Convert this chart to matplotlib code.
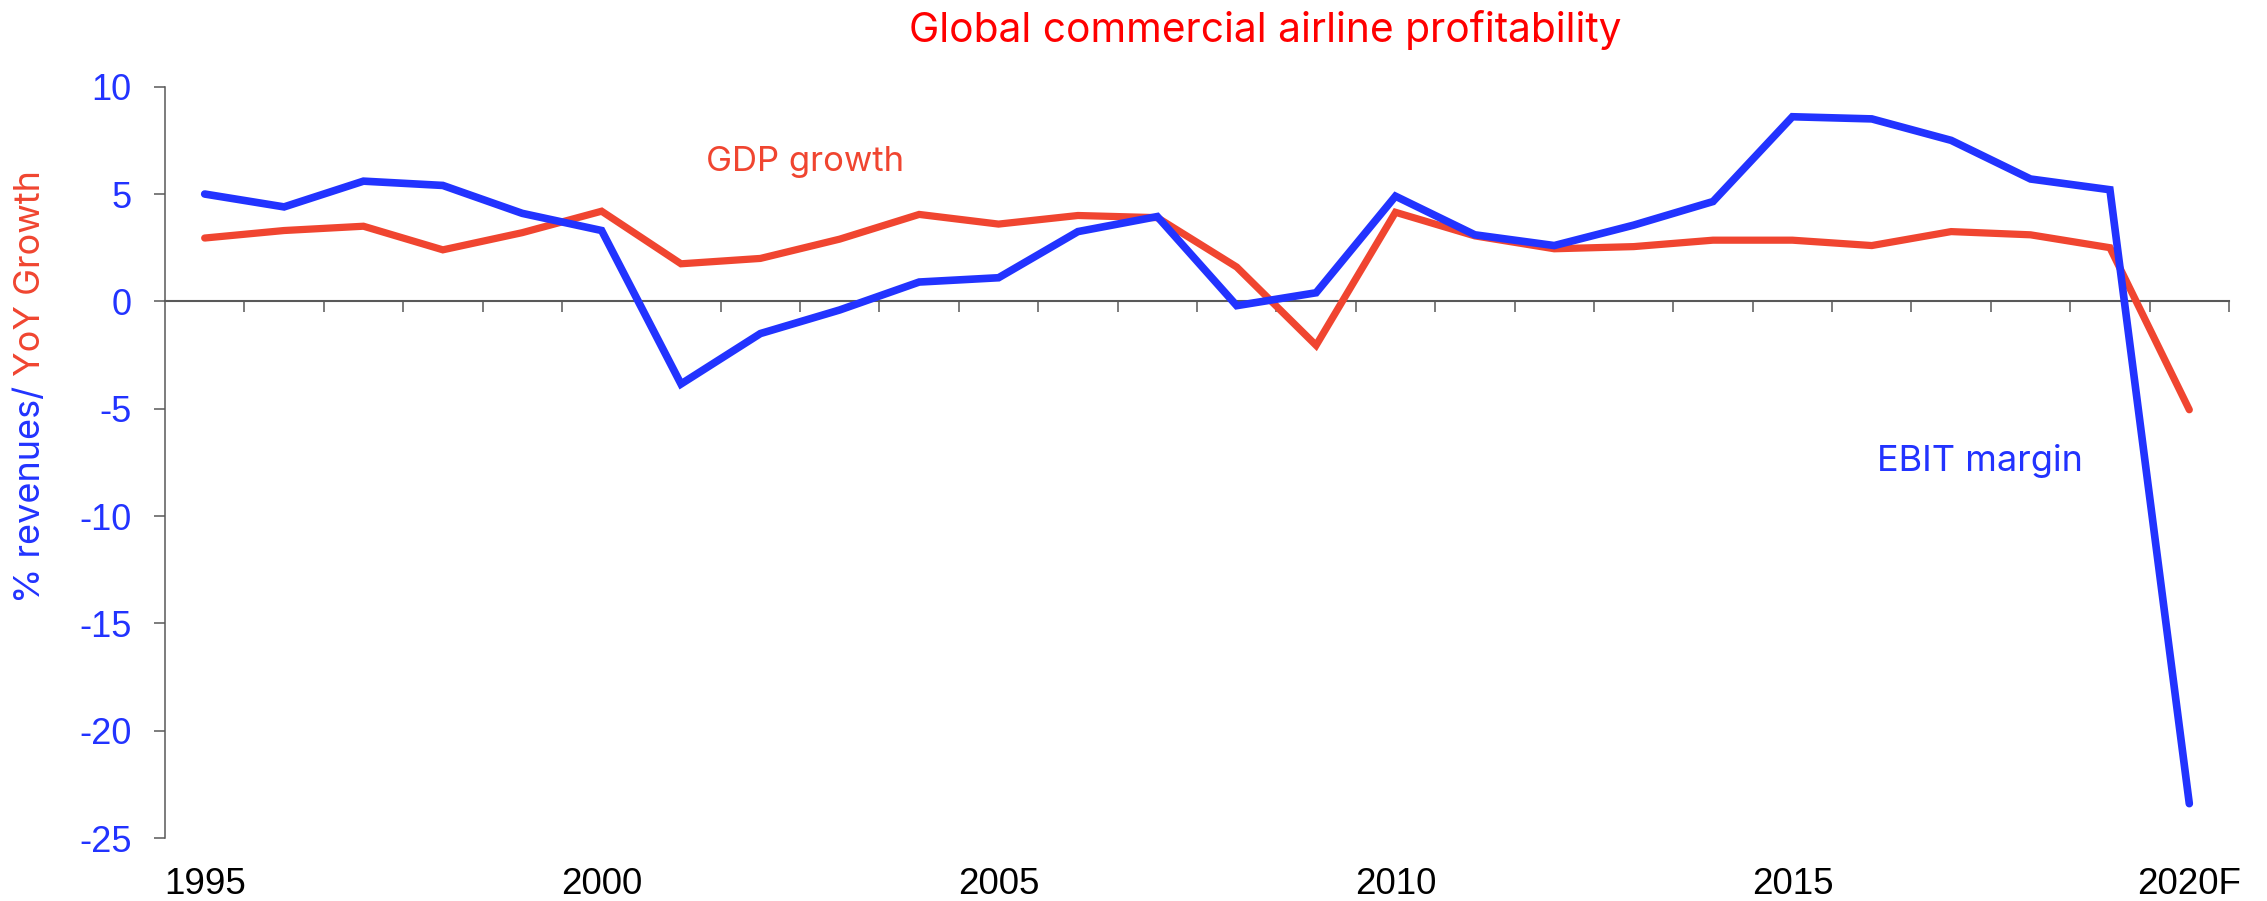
import numpy as np
import matplotlib.pyplot as plt

plt.rcParams['font.family'] = ['Liberation Sans', 'DejaVu Sans']

# 数据
years = ['1995', '1996', '1997', '1998', '1999', '2000', '2001', '2002', '2003',
         '2004', '2005', '2006', '2007', '2008', '2009', '2010', '2011', '2012',
         '2013', '2014', '2015', '2016', '2017', '2018', '2019', '2020F']
ebit_margin = [5.0, 4.4, 5.6, 5.4, 4.1, 3.3, -3.85, -1.5, -0.4, 0.9, 1.1, 3.25,
               3.95, -0.2, 0.4, 4.9, 3.1, 2.6, 3.55, 4.65, 8.6, 8.5, 7.5, 5.7,
               5.2, -23.4]
gdp_growth = [2.95, 3.3, 3.5, 2.4, 3.2, 4.2, 1.75, 2.0, 2.9, 4.05, 3.6, 4.0,
              3.9, 1.6, -2.05, 4.15, 3.05, 2.45, 2.55, 2.85, 2.85, 2.6, 3.25,
              3.1, 2.5, -5.05]
shown_years = ['1995', '2000', '2005', '2010', '2015', '2020F']
y_ticks = [-25, -20, -15, -10, -5, 0, 5, 10]

blue = '#2233FF'
red = '#F04530'
axis_grey = '#595959'

W, H = 2267, 901
fig = plt.figure(figsize=(W / 100, H / 100), dpi=100)
ax = fig.add_axes([165 / W, 1 - 838 / H, (2229 - 165) / W, (838 - 86.7) / H])

x = np.arange(len(years))
ax.plot(x, gdp_growth, color=red, lw=5.2, solid_capstyle='round', solid_joinstyle='miter', zorder=3)
ax.plot(x, ebit_margin, color=blue, lw=5.5, solid_capstyle='round', solid_joinstyle='miter', zorder=4)

ax.set_xlim(-0.5, len(years) - 0.5)
ax.set_ylim(-25, 10)

# 坐标轴样式
for side in ['top', 'right']:
    ax.spines[side].set_visible(False)
ax.spines['left'].set_color(axis_grey)
ax.spines['left'].set_linewidth(1.1)
ax.spines['bottom'].set_position(('data', 0))
ax.spines['bottom'].set_color(axis_grey)
ax.spines['bottom'].set_linewidth(1.5)

# 零线上的刻度在类别之间
ax.set_xticks(np.arange(0.5, len(years), 1))
ax.tick_params(axis='x', direction='out', length=8, width=1.1, color=axis_grey, labelbottom=False)

ax.set_yticks(y_ticks)
ax.set_yticklabels([str(v) for v in y_ticks])
ax.tick_params(axis='y', direction='out', length=8, width=1.1, color=axis_grey,
               labelcolor=blue, labelsize=26, pad=16)

# 年份标签放在图底部
sec = ax.secondary_xaxis('bottom')
sec.spines['bottom'].set_visible(False)
sec.set_xticks([years.index(y) for y in shown_years])
sec.set_xticklabels(shown_years)
sec.tick_params(axis='x', length=0, labelsize=26.5, pad=21, labelcolor='black')

# 标题和注释
txt_font = ['Inter', 'DejaVu Sans']
fig.text(0.558, 1 - 42 / H, 'Global commercial airline profitability', color='#FF0000',
         fontsize=29.3, ha='center', va='baseline', family=txt_font)
fig.text(706 / W, 1 - 171 / H, 'GDP growth', color=red, fontsize=25,
         ha='left', va='baseline', family=txt_font)
fig.text(1877 / W, 1 - 471 / H, 'EBIT margin', color=blue, fontsize=26,
         ha='left', va='baseline', family=txt_font)

# 双色纵轴标题
lab1 = fig.text(0.0135, 1 - 603 / H, '% revenues/ ', color=blue, fontsize=26,
                rotation=90, ha='center', va='bottom', family=txt_font)
fig.canvas.draw()
bb = lab1.get_window_extent()
fig.text(0.0135, bb.y1 / fig.bbox.height, 'YoY Growth', color=red, fontsize=26,
         rotation=90, ha='center', va='bottom', family=txt_font)

fig.savefig('out.png', dpi=100)
